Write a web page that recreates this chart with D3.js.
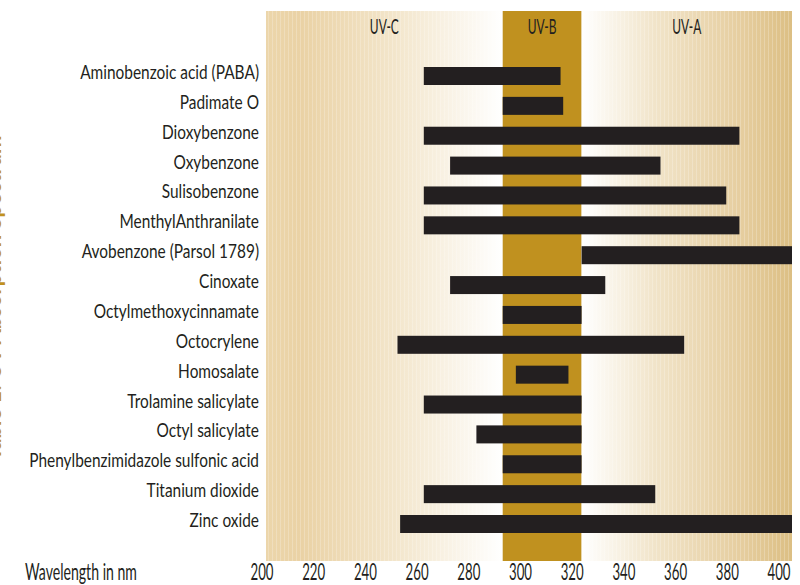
<!DOCTYPE html>
<html><head><meta charset="utf-8">
<script src="https://cdn.jsdelivr.net/npm/d3@7"></script>
<style>body{margin:0;background:#fff;} svg{display:block;}</style>
</head><body>
<script>
const compounds = ["Aminobenzoic acid (PABA)","Padimate O","Dioxybenzone","Oxybenzone","Sulisobenzone","MenthylAnthranilate","Avobenzone (Parsol 1789)","Cinoxate","Octylmethoxycinnamate","Octocrylene","Homosalate","Trolamine salicylate","Octyl salicylate","Phenylbenzimidazole sulfonic acid","Titanium dioxide","Zinc oxide"];
const startNm = [260,290,260,270,260,260,320,270,290,250,295,260,280,290,260,251];
const endNm   = [312,313,380,350,375,380,400,329,320,359,315,320,320,320,348,400];
const bands = [{name:"UV-C",from:200,to:290},{name:"UV-B",from:290,to:320},{name:"UV-A",from:320,to:400}];
const tickValues = [200,220,240,260,280,300,320,340,360,380,400];
const title = "Table 1: UV Absorption Spectrum";
const axisTitle = "Wavelength in nm";

(function(){
const W=800,H=585;
const font = "Lato, 'DejaVu Sans', sans-serif";
const ink = "#231f20";
const svg = d3.select("body").append("svg").attr("width",W).attr("height",H);
const x = d3.scaleLinear().domain([200,400]).range([266,792]);
const xLabel = d3.scaleLinear().domain([200,400]).range([262,779]);
const y = d3.scalePoint().domain(compounds).range([76,524]);
const plotTop=11,plotBottom=561,barH=18;

function squeeze(str,size,weight,target){
  const t = svg.append("text").attr("font-family",font).attr("font-size",size).attr("font-weight",weight).text(str);
  const w = t.node().getComputedTextLength(); t.remove(); return target/w;
}

const defs = svg.append("defs");
const gl = defs.append("linearGradient").attr("id","gC");
gl.append("stop").attr("offset","0").attr("stop-color","#ecd6ab");
gl.append("stop").attr("offset","0.15").attr("stop-color","#ead2a5");
gl.append("stop").attr("offset","0.55").attr("stop-color","#f3e6cc");
gl.append("stop").attr("offset","1").attr("stop-color","#ffffff");
const gr = defs.append("linearGradient").attr("id","gA");
gr.append("stop").attr("offset","0").attr("stop-color","#ffffff");
gr.append("stop").attr("offset","0.35").attr("stop-color","#f1e4c9");
gr.append("stop").attr("offset","0.75").attr("stop-color","#e6cea0");
gr.append("stop").attr("offset","1").attr("stop-color","#dcbf84");
const pat = defs.append("pattern").attr("id","stripes").attr("patternUnits","userSpaceOnUse").attr("width",4).attr("height",10);
pat.append("rect").attr("x",0).attr("y",0).attr("width",1).attr("height",10).attr("fill","#fff").attr("opacity",0.22);

const bandFill = {"UV-C":"url(#gC)","UV-B":"#c0911f","UV-A":"url(#gA)"};
svg.selectAll("rect.band").data(bands).join("rect").attr("class","band")
  .attr("x",d=>x(d.from)).attr("width",d=>x(d.to)-x(d.from))
  .attr("y",plotTop).attr("height",plotBottom-plotTop).attr("fill",d=>bandFill[d.name]);
svg.selectAll("rect.stripe").data(bands.filter(d=>d.name!=="UV-B")).join("rect").attr("class","stripe")
  .attr("x",d=>x(d.from)).attr("width",d=>x(d.to)-x(d.from))
  .attr("y",plotTop).attr("height",plotBottom-plotTop).attr("fill","url(#stripes)");

const sBand = squeeze("UV-C",22,400,29);
svg.selectAll("text.bandlbl").data(bands).join("text").attr("class","bandlbl")
  .attr("transform",d=>`translate(${x((d.from+d.to)/2)},34) scale(${sBand},1)`)
  .attr("text-anchor","middle").attr("font-family",font).attr("font-size",22)
  .attr("fill",ink).text(d=>d.name);

svg.selectAll("rect.bar").data(compounds).join("rect").attr("class","bar")
  .attr("x",(d,i)=>x(startNm[i])).attr("width",(d,i)=>x(endNm[i])-x(startNm[i]))
  .attr("y",d=>y(d)-barH/2).attr("height",barH).attr("fill",ink);

const sCat = squeeze("Aminobenzoic acid (PABA)",19,400,179);
svg.selectAll("text.cat").data(compounds).join("text").attr("class","cat")
  .attr("transform",d=>`translate(259,${y(d)+3}) scale(${sCat},1)`).attr("text-anchor","end")
  .attr("font-family",font).attr("font-size",19).attr("fill",ink).text(d=>d);

const sTick = squeeze("220",24,400,23);
svg.selectAll("text.tick").data(tickValues).join("text").attr("class","tick")
  .attr("transform",d=>`translate(${xLabel(d)},580) scale(${sTick},1)`).attr("text-anchor","middle")
  .attr("font-family",font).attr("font-size",24).attr("fill",ink).text(d=>d);

const sAx = squeeze(axisTitle,24,400,112);
svg.append("text").attr("transform",`translate(25,580) scale(${sAx},1)`).attr("font-family",font).attr("font-size",24)
  .attr("fill",ink).text(axisTitle);

const sT = squeeze(title,24,700,325);
svg.append("text").attr("transform",`translate(1,298) rotate(-90) scale(${sT},1)`).attr("text-anchor","middle")
  .attr("font-family",font).attr("font-size",24).attr("font-weight",700).attr("fill","#c0911f").text(title);
})();
</script>
</body></html>
